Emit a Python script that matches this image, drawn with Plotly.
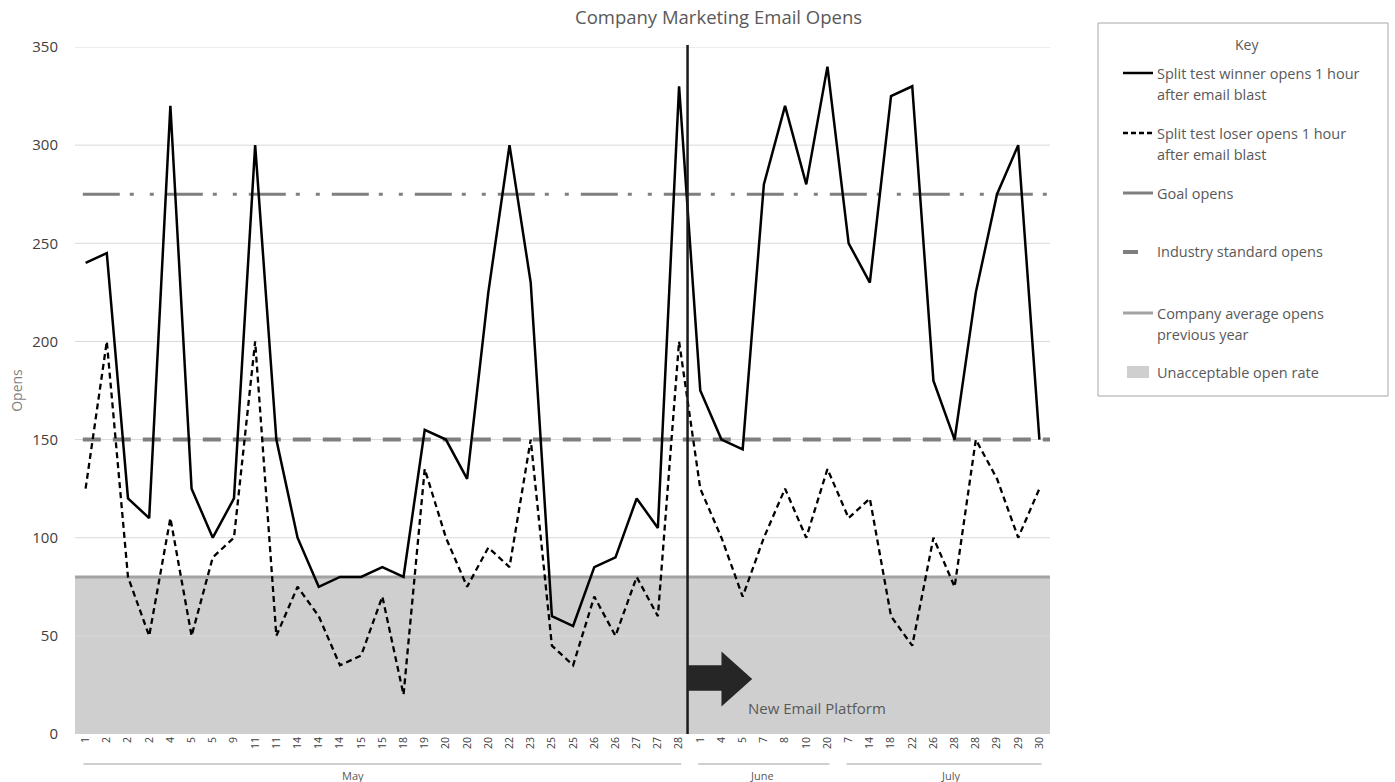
import plotly.graph_objects as go

# ---------------- data ----------------
months = ["May", "June", "July"]
month_counts = [29, 7, 10]
day_labels = ["1", "2", "2", "2", "4", "5", "5", "9", "11", "11", "14", "14", "14", "15", "15",
              "18", "19", "20", "20", "20", "22", "23", "25", "25", "26", "26", "27", "27", "28",
              "1", "4", "5", "7", "8", "10", "20",
              "7", "14", "18", "22", "26", "28", "28", "29", "29", "30"]
winner_opens = [240, 245, 120, 110, 320, 125, 100, 120, 300, 150, 100, 75, 80, 80, 85,
                80, 155, 150, 130, 225, 300, 230, 60, 55, 85, 90, 120, 105, 330,
                175, 150, 145, 280, 320, 280, 340,
                250, 230, 325, 330, 180, 150, 225, 275, 300, 150]
loser_opens = [125, 200, 80, 50, 110, 50, 90, 100, 200, 50, 75, 60, 35, 40, 70,
               20, 135, 100, 75, 95, 85, 150, 45, 35, 70, 50, 80, 60, 200,
               125, 100, 70, 100, 125, 100, 135,
               110, 120, 60, 45, 100, 75, 150, 130, 100, 125]
goal_opens = 275
industry_opens = 150
company_avg_opens = 80
unacceptable_max = 80
y_ticks = [0, 50, 100, 150, 200, 250, 300, 350]

legend_labels = [
    ["Split test winner opens 1 hour", "after email blast"],
    ["Split test loser opens 1 hour", "after email blast"],
    ["Goal opens"],
    ["Industry standard opens"],
    ["Company average opens", "previous year"],
    ["Unacceptable open rate"],
]

# ---------------- layout geometry ----------------
W, H = 1395, 782
L, R, T, B = 75, 345, 47, 48
PW, PH = W - L - R, H - T - B
FONT = "Open Sans"
TXT = "#595959"


def px_x(px):
    return (px - L) / PW


def px_y(py):
    return (H - B - py) / PH


x_idx = list(range(len(day_labels)))
fig = go.Figure()

fig.add_trace(go.Scatter(x=x_idx, y=winner_opens, mode="lines", name=" ".join(legend_labels[0]),
                         line=dict(color="#000000", width=2.5), showlegend=False))
fig.add_trace(go.Scatter(x=x_idx, y=loser_opens, mode="lines", name=" ".join(legend_labels[1]),
                         line=dict(color="#000000", width=2.3, dash="6px,4px"), showlegend=False))

shapes = []
# unacceptable area
shapes.append(dict(type="rect", xref="paper", yref="y", x0=0, x1=1, y0=0, y1=unacceptable_max,
                   fillcolor="#cfcfcf", line=dict(width=0), layer="below"))
# gridlines (drawn over the area, under everything else)
for v in y_ticks[1:]:
    shapes.append(dict(type="line", xref="paper", yref="y", x0=0, x1=1, y0=v, y1=v,
                       line=dict(color="#d9d9d9", width=1), layer="below"))
# reference lines
shapes.append(dict(type="line", xref="paper", yref="y", x0=0, x1=1, y0=company_avg_opens, y1=company_avg_opens,
                   line=dict(color="#a3a3a3", width=3), layer="below"))
shapes.append(dict(type="line", xref="paper", yref="y", x0=0.008, x1=1, y0=industry_opens, y1=industry_opens,
                   line=dict(color="#7f7f7f", width=4, dash="18px,12px"), layer="below"))
shapes.append(dict(type="line", xref="paper", yref="y", x0=0.008, x1=1, y0=goal_opens, y1=goal_opens,
                   line=dict(color="#7f7f7f", width=3, dash="37px,10px,4px,16px,4px,12px"), layer="below"))

# platform change marker
change_x = month_counts[0] - 1 + 0.4
shapes.append(dict(type="line", xref="x", yref="paper", x0=change_x, x1=change_x, y0=0, y1=1.003,
                   line=dict(color="#1a1a1a", width=2.5), layer="above"))
arrow = (f"M {change_x},22 L 30.0,22 L 30.0,14 L 31.45,28 L 30.0,42 L 30.0,35 L {change_x},35 Z")
shapes.append(dict(type="path", xref="x", yref="y", path=arrow, fillcolor="#262626",
                   line=dict(width=0), layer="above"))

annotations = []
annotations.append(dict(x=31.15, y=13.2, xref="x", yref="y", text="New Email Platform", showarrow=False,
                        xanchor="left", yanchor="middle", font=dict(family=FONT, size=15, color=TXT)))

# month groups on x axis
group_label_x = {"May": 12.6, "June": 31.9, "July": 40.8}
start = 0
for m, c in zip(months, month_counts):
    end = start + c - 1
    shapes.append(dict(type="line", xref="x", yref="paper", x0=start - 0.1, x1=end + 0.1,
                       y0=px_y(764), y1=px_y(764), line=dict(color="#bfbfbf", width=1.5)))
    annotations.append(dict(x=group_label_x[m], y=px_y(775), xref="x", yref="paper", text=m, showarrow=False,
                            xanchor="center", yanchor="middle", font=dict(family=FONT, size=11, color=TXT)))
    start = end + 1

# title
annotations.append(dict(x=px_x(718), y=px_y(17), xref="paper", yref="paper", text="Company Marketing Email Opens",
                        showarrow=False, xanchor="center", yanchor="middle",
                        font=dict(family=FONT, size=18.5, color=TXT)))

# ---------------- custom key ----------------
shapes.append(dict(type="rect", xref="paper", yref="paper", x0=px_x(1098), x1=px_x(1388), y0=px_y(396), y1=px_y(23),
                   line=dict(color="#a6a6a6", width=1), fillcolor="rgba(0,0,0,0)"))
annotations.append(dict(x=px_x(1247), y=px_y(44), xref="paper", yref="paper", text="Key", showarrow=False,
                        xanchor="center", yanchor="middle", font=dict(family=FONT, size=14, color=TXT)))
entry_y = [73, 133, 193, 252, 313, 372]
sym_x0, sym_x1, text_x = 1123, 1153, 1155
sym_styles = [
    dict(color="#000000", width=2.5, dash="solid"),
    dict(color="#000000", width=2.5, dash="5px,3px"),
    dict(color="#7f7f7f", width=3, dash="solid"),
    None,
    dict(color="#a3a3a3", width=3, dash="solid"),
    None,
]
for i, (lines, yy) in enumerate(zip(legend_labels, entry_y)):
    st = sym_styles[i]
    if i == 3:
        shapes.append(dict(type="line", xref="paper", yref="paper", x0=px_x(1123), x1=px_x(1138),
                           y0=px_y(yy), y1=px_y(yy), line=dict(color="#7f7f7f", width=4)))
    elif i == 5:
        shapes.append(dict(type="rect", xref="paper", yref="paper", x0=px_x(1127), x1=px_x(1149),
                           y0=px_y(yy + 6), y1=px_y(yy - 6), fillcolor="#cfcfcf", line=dict(width=0)))
    else:
        shapes.append(dict(type="line", xref="paper", yref="paper", x0=px_x(sym_x0), x1=px_x(sym_x1),
                           y0=px_y(yy), y1=px_y(yy), line=st))
    for k, t in enumerate(lines):
        annotations.append(dict(x=px_x(text_x), y=px_y(yy + 21 * k), xref="paper", yref="paper", text=t,
                                showarrow=False, xanchor="left", yanchor="middle",
                                font=dict(family=FONT, size=14.5, color=TXT)))

fig.update_layout(
    width=W, height=H,
    margin=dict(l=L, r=R, t=T, b=B, pad=0, autoexpand=False),
    paper_bgcolor="white", plot_bgcolor="white",
    font=dict(family=FONT, color=TXT),
    showlegend=False,
    shapes=shapes,
    annotations=annotations,
    xaxis=dict(range=[-0.5, len(day_labels) - 0.5], tickmode="array", tickvals=x_idx, ticktext=day_labels,
               tickangle=-90, tickfont=dict(family=FONT, size=10.5, color="#404040"), showgrid=False,
               zeroline=False, showline=False, ticks="", fixedrange=True, automargin=False),
    yaxis=dict(range=[0, 350], tickmode="array", tickvals=y_ticks, showgrid=False,
               zeroline=False, showline=False, ticks="", ticklabelstandoff=16,
               tickfont=dict(family=FONT, size=15, color="#404040"),
               title=dict(text="Opens", font=dict(family=FONT, size=14, color="#7f7f7f"), standoff=6),
               fixedrange=True, automargin=False),
)

fig.write_html("out.html", config={"displayModeBar": False},
               post_script="document.body.style.margin='0';document.body.style.overflow='hidden';")
